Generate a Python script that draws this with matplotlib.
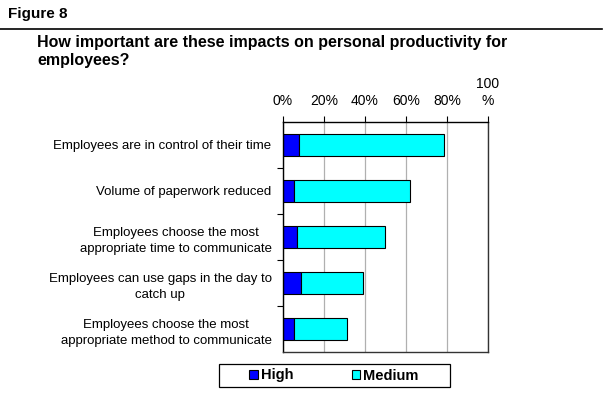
import matplotlib
import matplotlib.pyplot as plt
import numpy as np
from matplotlib.patches import Rectangle

matplotlib.use("Agg")
plt.rcParams["font.family"] = ["Liberation Sans", "DejaVu Sans"]

categories = [
    "Employees are in control of their time",
    "Volume of paperwork reduced",
    "Employees choose the most\nappropriate time to communicate",
    "Employees can use gaps in the day to\ncatch up",
    "Employees choose the most\nappropriate method to communicate",
]
high = [8, 5.5, 7, 9, 5.5]
medium = [70.5, 56.5, 43, 30, 26]
x_ticks = [0, 20, 40, 60, 80, 100]
x_labels = ["0%", "20%", "40%", "60%", "80%", "100\n%"]

W, H = 606, 394
fig = plt.figure(figsize=(W / 100, H / 100), dpi=100)
ax = fig.add_axes([282.7 / W, 1 - 352.3 / H, 205.3 / W, 230.6 / H])

y = np.arange(len(categories))
ax.barh(y, high, height=0.48, color="#0000ff", edgecolor="black", linewidth=0.8, label="High")
ax.barh(y, medium, left=high, height=0.48, color="#00ffff", edgecolor="black", linewidth=0.8, label="Medium")

ax.set_xlim(0, 100)
ax.set_ylim(len(categories) - 0.5, -0.5)
ax.set_xticks(x_ticks)
ax.set_xticklabels(x_labels, fontsize=10)
ax.xaxis.tick_top()
ax.tick_params(axis="x", direction="out", length=4, width=0.8, pad=6, color="black")
for lab in ax.get_xticklabels():
    lab.set_multialignment("center")
    lab.set_linespacing(1.3)

# category labels sit between boundary tick marks
ax.set_yticks(y)
ax.set_yticklabels(categories, fontsize=9.5)
ax.tick_params(axis="y", length=0, pad=8)
ax.set_yticks(np.arange(len(categories) - 1) + 0.5, minor=True)
ax.tick_params(axis="y", which="minor", length=4, width=0.8, direction="out")
for lab in ax.get_yticklabels():
    lab.set_multialignment("center")
    lab.set_linespacing(1.5)

ax.grid(axis="x", color="#b0b0b0", linewidth=0.9)
ax.set_axisbelow(True)
ax.spines["left"].set_color("black")
ax.spines["top"].set_color("black")
ax.spines["right"].set_color("#333333")
ax.spines["bottom"].set_color("#333333")
for s in ax.spines.values():
    s.set_linewidth(1.0)

fig.text(8 / W, 1 - 14 / H, "Figure 8", fontsize=11, fontweight="bold", va="center")
fig.add_artist(plt.Line2D([0, 602 / W], [1 - 29 / H, 1 - 29 / H], color="black", linewidth=1.2))
fig.text(37 / W, 1 - 51.5 / H, "How important are these impacts on personal productivity for\nemployees?",
         fontsize=11.5, fontweight="bold", va="center", linespacing=1.2)

# legend box drawn separately to get the wide side margins
fig.add_artist(Rectangle((219 / W, 1 - 387 / H), 231 / W, 23 / H, transform=fig.transFigure,
                         facecolor="white", edgecolor="black", linewidth=0.9))
leg = fig.legend(loc="center", bbox_to_anchor=(334 / W, 1 - 375.5 / H), ncol=2,
                 frameon=False, handlelength=0.6, handleheight=0.6,
                 handletextpad=0.2, columnspacing=4.0, borderpad=0.2,
                 prop={"size": 10.5, "weight": "bold"})

fig.savefig("out.png", dpi=100)
